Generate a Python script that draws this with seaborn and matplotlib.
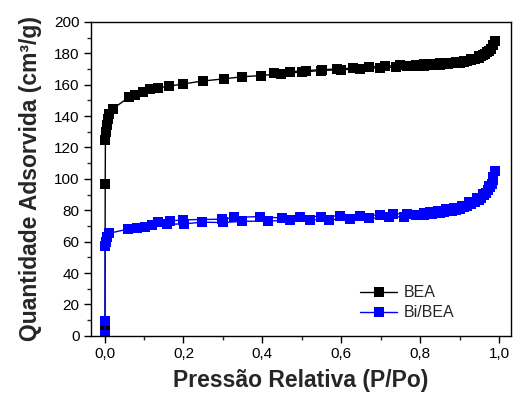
import numpy as np
import pandas as pd
import matplotlib
matplotlib.use("Agg")
import matplotlib.pyplot as plt
import seaborn as sns
from matplotlib.ticker import MultipleLocator, FuncFormatter

# N2 isotherms: relative pressure (P/Po) vs adsorbed quantity (cm3/g)
bea_ads_p = [0.0005, 0.001, 0.0015, 0.002, 0.003, 0.005, 0.008, 0.012, 0.02,
             0.062, 0.077, 0.098, 0.115, 0.136, 0.163, 0.2, 0.249, 0.303, 0.348,
             0.397, 0.447, 0.5, 0.548, 0.6, 0.648, 0.699, 0.739, 0.766, 0.79, 0.8,
             0.81, 0.82, 0.83, 0.84, 0.85, 0.86, 0.87, 0.88, 0.89, 0.9, 0.91, 0.92,
             0.93, 0.94, 0.948, 0.955, 0.96, 0.965, 0.97, 0.975, 0.98, 0.985, 0.99]
bea_ads_q = [3.5, 6, 97, 125, 130, 134, 138, 141, 144.5,
             152, 153.5, 155.5, 157, 158, 159, 160.5, 162.3, 163.7, 165,
             165.8, 167, 168, 169, 169.5, 170.2, 170.8, 171.3, 172, 171.7, 171.8,
             172, 172.2, 172.4, 172.6, 172.8, 173, 173.2, 173.5, 173.7, 174, 174.5, 175,
             175.7, 176.5, 177.2, 178, 178.7, 179.5, 180.5, 181.5, 183, 185, 188]

bea_des_p = [0.99, 0.985, 0.97, 0.95, 0.93, 0.91, 0.89, 0.87, 0.85, 0.83, 0.81,
             0.79, 0.75, 0.71, 0.67, 0.63, 0.59, 0.55, 0.51, 0.47, 0.43]
bea_des_q = [188, 185, 181, 178, 176.5, 175.3, 174.5, 174, 173.5, 173.2, 173,
             172.7, 172.3, 171.8, 171.2, 170.5, 170, 169.5, 169, 168.2, 167.3]

bi_ads_p = [0.0005, 0.001, 0.0015, 0.003, 0.006, 0.012, 0.06, 0.081, 0.102, 0.119,
            0.157, 0.202, 0.246, 0.301, 0.348, 0.415, 0.47, 0.521, 0.57, 0.621,
            0.67, 0.72, 0.76, 0.79, 0.8, 0.81, 0.82, 0.83, 0.84, 0.85, 0.86, 0.87,
            0.88, 0.89, 0.9, 0.91, 0.92, 0.93, 0.94, 0.948, 0.955, 0.962, 0.967,
            0.972, 0.977, 0.981, 0.985, 0.99]
bi_ads_q = [0.6, 9.5, 57, 60, 63, 65.4, 68, 68.8, 69.6, 70.3,
            71.1, 71.3, 72.4, 72.2, 72.9, 73.2, 73.5, 73.9, 74.1, 74.3,
            74.8, 75.5, 76, 76.7, 77, 77.2, 77.5, 77.7, 78, 78.4, 78.8, 79.3,
            79.8, 80.4, 81, 82, 83, 84.2, 85.5, 86.7, 88, 89.5, 91,
            93, 95, 97, 99.5, 105]

bi_des_p = [0.99, 0.985, 0.975, 0.96, 0.945, 0.925, 0.905, 0.885, 0.865, 0.845,
            0.825, 0.809, 0.766, 0.732, 0.699, 0.648, 0.597, 0.548, 0.496, 0.449,
            0.394, 0.328, 0.298, 0.198, 0.166, 0.136]
bi_des_q = [105, 101, 95.5, 90.5, 87.5, 85, 83, 81.5, 80.5, 79.7,
            79, 78.5, 77.8, 77.7, 77, 76.6, 76.4, 76, 76, 75,
            76, 75.4, 74.3, 73.9, 73.2, 72.2]

sns.set_style("ticks")
plt.rcParams["font.family"] = ["Liberation Sans", "DejaVu Sans"]

fig = plt.figure(figsize=(5.16, 3.97), dpi=100)
ax = fig.add_axes([0.176, 0.154, 0.814, 0.791])

series = [
    ("BEA", "#000000", 7.0, bea_ads_p, bea_ads_q, bea_des_p, bea_des_q),
    ("Bi/BEA", "#0000FF", 7.8, bi_ads_p, bi_ads_q, bi_des_p, bi_des_q),
]
for name, color, msize, ap, aq, dp, dq in series:
    for i, (px, qy) in enumerate([(ap, aq), (dp, dq)]):
        df = pd.DataFrame({"p": px, "q": qy})
        sns.lineplot(data=df, x="p", y="q", ax=ax, sort=False, estimator=None,
                     color=color, marker="s", markersize=msize, markeredgewidth=0,
                     linewidth=1.0, label=name if i == 0 else None)

ax.set_xlim(-0.035, 1.03)
ax.set_ylim(0, 200)
ax.xaxis.set_major_locator(MultipleLocator(0.2))
ax.xaxis.set_minor_locator(MultipleLocator(0.1))
ax.yaxis.set_major_locator(MultipleLocator(20))
ax.yaxis.set_minor_locator(MultipleLocator(10))
ax.xaxis.set_major_formatter(FuncFormatter(lambda v, _: f"{v:.1f}".replace(".", ",")))
ax.tick_params(which="major", direction="out", length=5, width=1, labelsize=11,
               colors="black", pad=3)
ax.tick_params(which="minor", direction="out", length=3, width=1)
ax.tick_params(top=False, right=False, which="both")
for s in ax.spines.values():
    s.set_visible(True)
    s.set_linewidth(1.0)
    s.set_color("black")

ax.set_xlabel("Pressão Relativa (P/Po)", fontsize=16.5, fontweight="bold", labelpad=6)
ax.set_ylabel("Quantidade Adsorvida (cm³/g)", fontsize=16.5, fontweight="bold", labelpad=9)

ax.legend(loc="center left", bbox_to_anchor=(0.615, 0.105), frameon=False,
          fontsize=11.5, handlelength=2.3, handletextpad=0.4, labelspacing=0.3,
          borderpad=0.2)

fig.savefig("out.png", dpi=100)
